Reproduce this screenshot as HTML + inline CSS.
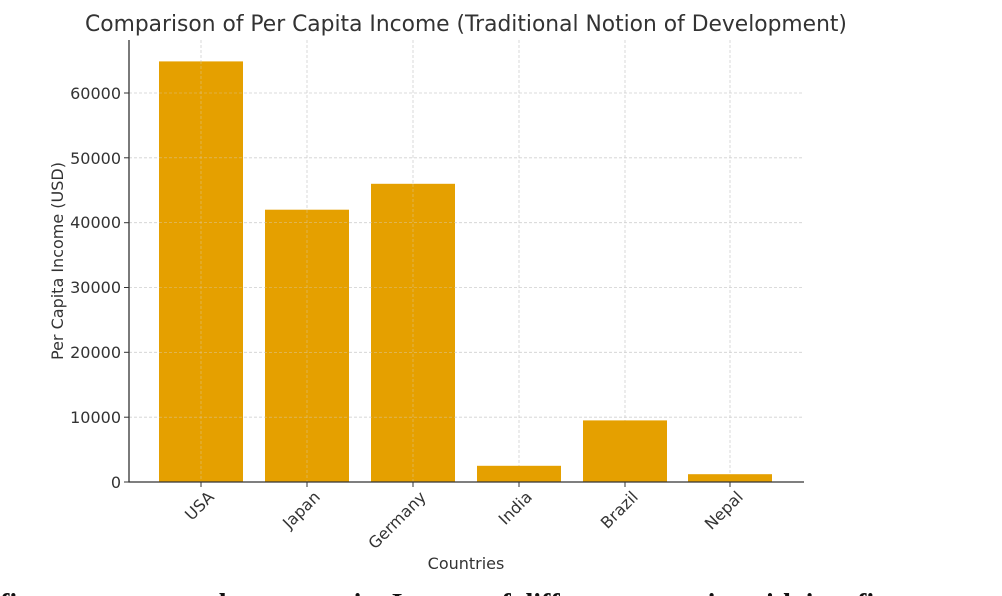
<!DOCTYPE html>
<html><head><meta charset="utf-8"><style>
html,body{margin:0;padding:0;background:#fff;width:1002px;height:596px;overflow:hidden}
</style></head><body>
<svg width="1002" height="596" xmlns="http://www.w3.org/2000/svg" font-family="'DejaVu Sans','Liberation Sans',sans-serif">
<rect width="1002" height="596" fill="#fff"/>
<text x="466" y="31" font-size="21.8" fill="#333" text-anchor="middle">Comparison of Per Capita Income (Traditional Notion of Development)</text>
<g stroke="#d0d0d0" stroke-dasharray="3,2" stroke-width="0.8">
<line x1="129" x2="803" y1="417.2" y2="417.2"/>
<line x1="129" x2="803" y1="352.3" y2="352.3"/>
<line x1="129" x2="803" y1="287.5" y2="287.5"/>
<line x1="129" x2="803" y1="222.7" y2="222.7"/>
<line x1="129" x2="803" y1="157.8" y2="157.8"/>
<line x1="129" x2="803" y1="93" y2="93"/>
<line x1="201" x2="201" y1="40" y2="482"/>
<line x1="307" x2="307" y1="40" y2="482"/>
<line x1="413" x2="413" y1="40" y2="482"/>
<line x1="519" x2="519" y1="40" y2="482"/>
<line x1="625" x2="625" y1="40" y2="482"/>
<line x1="730" x2="730" y1="40" y2="482"/>
</g>
<g fill="#e5a000">
<rect x="159" y="61.4" width="84" height="420.6"/>
<rect x="265" y="209.7" width="84" height="272.3"/>
<rect x="371" y="183.8" width="84" height="298.2"/>
<rect x="477" y="465.8" width="84" height="16.2"/>
<rect x="583" y="420.4" width="84" height="61.6"/>
<rect x="688" y="474.2" width="84" height="7.8"/>
</g>
<g stroke="#d8d8d8" stroke-dasharray="3,2" stroke-width="0.6" opacity="0.6">
<line x1="201" x2="201" y1="61" y2="482"/><line x1="307" x2="307" y1="210" y2="482"/><line x1="413" x2="413" y1="184" y2="482"/>
<line x1="159" x2="455" y1="417.2" y2="417.2"/><line x1="159" x2="455" y1="352.3" y2="352.3"/><line x1="159" x2="455" y1="287.5" y2="287.5"/><line x1="159" x2="455" y1="222.7" y2="222.7"/><line x1="159" x2="243" y1="157.8" y2="157.8"/><line x1="159" x2="243" y1="93" y2="93"/>
</g>
<line x1="129" x2="129" y1="40" y2="482.5" stroke="#333" stroke-width="1.3"/>
<line x1="128.5" x2="804" y1="482" y2="482" stroke="#333" stroke-width="1.3"/>
<g stroke="#333" stroke-width="1">
<line x1="124" x2="129" y1="482" y2="482"/><line x1="124" x2="129" y1="417.2" y2="417.2"/><line x1="124" x2="129" y1="352.3" y2="352.3"/><line x1="124" x2="129" y1="287.5" y2="287.5"/><line x1="124" x2="129" y1="222.7" y2="222.7"/><line x1="124" x2="129" y1="157.8" y2="157.8"/><line x1="124" x2="129" y1="93" y2="93"/>
<line x1="201" x2="201" y1="482" y2="487"/><line x1="307" x2="307" y1="482" y2="487"/><line x1="413" x2="413" y1="482" y2="487"/><line x1="519" x2="519" y1="482" y2="487"/><line x1="625" x2="625" y1="482" y2="487"/><line x1="730" x2="730" y1="482" y2="487"/>
</g>
<g font-size="16" fill="#333" text-anchor="end">
<text x="121" y="488">0</text><text x="121" y="423">10000</text><text x="121" y="358">20000</text><text x="121" y="293">30000</text><text x="121" y="228">40000</text><text x="121" y="164">50000</text><text x="121" y="99">60000</text>
</g>
<g font-size="16" fill="#333" text-anchor="end">
<text transform="translate(215,498) rotate(-45)">USA</text>
<text transform="translate(321,498) rotate(-45)">Japan</text>
<text transform="translate(427,498) rotate(-45)">Germany</text>
<text transform="translate(533,498) rotate(-45)">India</text>
<text transform="translate(639,498) rotate(-45)">Brazil</text>
<text transform="translate(744,498) rotate(-45)">Nepal</text>
</g>
<text x="466" y="569" font-size="16" fill="#333" text-anchor="middle">Countries</text>
<text transform="translate(63,261) rotate(-90)" font-size="16" fill="#333" text-anchor="middle">Per Capita Income (USD)</text>
<text x="0" y="613" font-family="'Liberation Serif',serif" font-size="28" font-weight="bold" fill="#111">figure we can see that per capita Income of different countries with in a figure</text>
</svg>
</body></html>
